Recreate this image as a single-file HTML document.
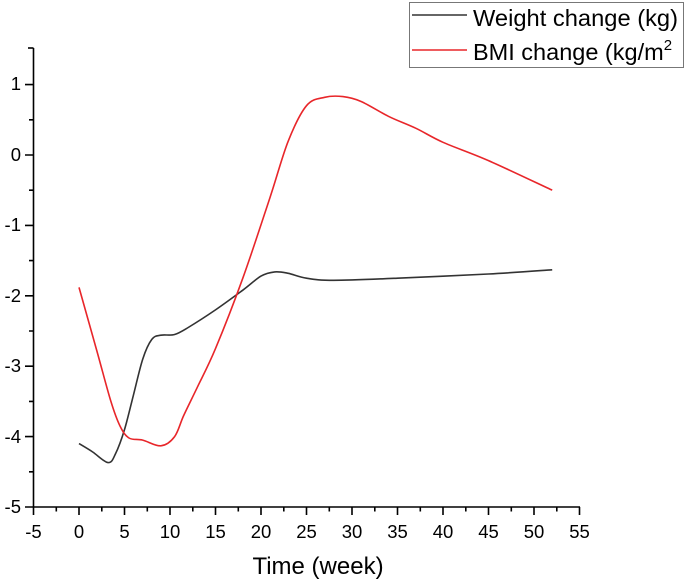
<!DOCTYPE html>
<html><head><style>body{margin:0;background:#fff}svg{display:block}</style></head>
<body>
<svg width="685" height="581" viewBox="0 0 685 581" xmlns="http://www.w3.org/2000/svg" font-family="Liberation Sans, Arial, sans-serif">
<rect width="685" height="581" fill="#fff"/>
<g stroke="#000" stroke-width="1.6" fill="none">
<line x1="33.5" y1="48" x2="33.5" y2="507"/>
<line x1="33.5" y1="507" x2="580" y2="507"/>
<path d="M28 48H33.5"/>
<path d="M25 507H33.5M25 436.6H33.5M25 366.2H33.5M25 295.8H33.5M25 225.4H33.5M25 155H33.5M25 84.6H33.5"/>
<path d="M29 471.8H33.5M29 401.4H33.5M29 331H33.5M29 260.6H33.5M29 190.2H33.5M29 119.8H33.5"/>
<path d="M33.5 507v8M79 507v8M124.5 507v8M170 507v8M215.5 507v8M261 507v8M306.5 507v8M352 507v8M397.5 507v8M443 507v8M488.5 507v8M534 507v8M579.5 507v8"/>
<path d="M56.3 507v4.5M101.8 507v4.5M147.3 507v4.5M192.8 507v4.5M238.3 507v4.5M283.8 507v4.5M329.3 507v4.5M374.8 507v4.5M420.3 507v4.5M465.8 507v4.5M511.3 507v4.5M556.8 507v4.5"/>
</g>
<g font-size="18.5" fill="#000" text-anchor="end">
<text x="21" y="513">-5</text><text x="21" y="443">-4</text><text x="21" y="372">-3</text><text x="21" y="302">-2</text><text x="21" y="231">-1</text><text x="21" y="161">0</text><text x="21" y="90">1</text>
</g>
<g font-size="18.5" fill="#000" text-anchor="middle">
<text x="33.5" y="538">-5</text><text x="79" y="538">0</text><text x="124.5" y="538">5</text><text x="170" y="538">10</text><text x="215.5" y="538">15</text><text x="261" y="538">20</text><text x="306.5" y="538">25</text><text x="352" y="538">30</text><text x="397.5" y="538">35</text><text x="443" y="538">40</text><text x="488.5" y="538">45</text><text x="534" y="538">50</text><text x="579.5" y="538">55</text>
</g>
<text x="318" y="574" font-size="24" text-anchor="middle">Time (week)</text>
<path id="w" fill="none" stroke="#333" stroke-width="1.6" stroke-linejoin="round" data-p="79,443.6 92.7,452 108.1,462.6 115.4,454 124.5,429.6 133.6,394.4 142.7,359.2 151.8,339.4 160.9,335.2 174.6,334.5 188.2,327.5 215.5,309.9 242.8,290.2 261,276.1 274.7,271.9 288.3,273.3 306.5,278.2 333.8,280.3 397.5,278.2 488.5,274 552.2,269.8"/>
<path id="b" fill="none" stroke="#e8262a" stroke-width="1.6" stroke-linejoin="round" data-p="79,287.4 97.2,352.1 110.9,401.4 120,426 129,438 142.7,440.1 160.9,445.8 174.6,436.6 183.7,415.5 197.3,387.3 215.5,348.6 242.8,278.2 270.1,197.2 288.3,140.9 306.5,105.7 324.7,97.3 342.9,96.6 361.1,101.5 388.4,116.3 415.7,128.2 443,142.3 488.5,160.6 552.2,190.2"/>
<rect x="409.5" y="2.5" width="274" height="65" fill="#fff" stroke="#777" stroke-width="1"/>
<line x1="412" y1="15" x2="467" y2="15" stroke="#333" stroke-width="1.5"/>
<line x1="412" y1="50" x2="467" y2="50" stroke="#e8262a" stroke-width="1.5"/>
<text x="473" y="26" font-size="23.5" textLength="205" lengthAdjust="spacingAndGlyphs">Weight change (kg)</text>
<text x="473" y="60" font-size="23.5">BMI change (kg/m<tspan font-size="15" dy="-10">2</tspan></text>
</svg>
<script>
['w','b'].forEach(function(id){
 var el=document.getElementById(id);
 var p=el.getAttribute('data-p').trim().split(/\s+/).map(function(s){return s.split(',').map(Number);});
 var d='M'+p[0][0]+' '+p[0][1];
 for(var i=0;i<p.length-1;i++){
  var p0=p[i-1]||p[i],p1=p[i],p2=p[i+1],p3=p[i+2]||p2;
  var c1x=p1[0]+(p2[0]-p0[0])/6,c1y=p1[1]+(p2[1]-p0[1])/6;
  var c2x=p2[0]-(p3[0]-p1[0])/6,c2y=p2[1]-(p3[1]-p1[1])/6;
  d+=' C'+c1x.toFixed(1)+' '+c1y.toFixed(1)+' '+c2x.toFixed(1)+' '+c2y.toFixed(1)+' '+p2[0]+' '+p2[1];
 }
 el.setAttribute('d',d);
});
</script>
</body></html>
